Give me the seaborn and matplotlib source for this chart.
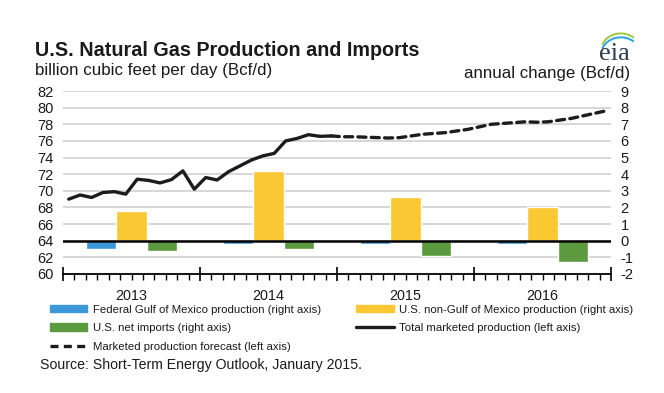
import numpy as np
import pandas as pd
import matplotlib
matplotlib.use("Agg")
import matplotlib.pyplot as plt
from matplotlib.patches import Patch, Arc
from matplotlib.lines import Line2D
import matplotlib.transforms as mtransforms
import seaborn as sns


# chart values
years = [2013, 2014, 2015, 2016]
year_labels = ["2013", "2014", "2015", "2016"]

# total marketed production, monthly, Jan 2013 - Dec 2014 (left axis, Bcf/d)
production_hist = [69.0, 69.5, 69.2, 69.8, 69.9, 69.6, 71.4, 71.25, 70.95, 71.35, 72.4, 70.2,
                   71.6, 71.3, 72.3, 73.0, 73.7, 74.2, 74.5, 76.0, 76.3, 76.75, 76.55, 76.6]
# marketed production forecast, monthly, Jan 2015 - Dec 2016 (left axis, Bcf/d)
production_fcst = [76.5, 76.5, 76.45, 76.4, 76.35, 76.4, 76.6, 76.8, 76.9, 77.0, 77.2, 77.4,
                   77.7, 78.0, 78.1, 78.2, 78.3, 78.25, 78.3, 78.5, 78.7, 79.0, 79.3, 79.6]

# annual change (right axis, Bcf/d)
gom_change = [-0.5, -0.2, -0.2, -0.2]
non_gom_change = [1.8, 4.2, 2.6, 2.0]
net_imports_change = [-0.6, -0.5, -0.9, -1.3]

BLUE = "#3a98d8"
YELLOW = "#f9c832"
GREEN = "#5c9a40"
LINE = "#1c1c1c"
GRID = "#d4d4d4"


def build_frames():
    hist = pd.DataFrame({
        "t": 2013 + (np.arange(len(production_hist)) + 0.5) / 12,
        "value": production_hist,
    })
    fcst = pd.DataFrame({
        "t": 2015 + (np.arange(len(production_fcst)) + 0.5) / 12,
        "value": production_fcst,
    })
    # let the forecast start where history ends
    fcst = pd.concat([hist.tail(1), fcst], ignore_index=True)
    return hist, fcst


def main() -> None:
    sns.set_theme(style="white")
    plt.rcParams["font.family"] = ["Liberation Sans", "DejaVu Sans"]
    plt.rcParams["text.color"] = "#1a1a1a"
    plt.rcParams["axes.unicode_minus"] = False

    fig = plt.figure(figsize=(6.64, 3.93), dpi=100)
    ax = fig.add_axes([0.0949, 0.3028, 0.8253, 0.4656])
    ax2 = ax.twinx()

    hist, fcst = build_frames()

    # grid lines live on the right axis so the bars sit on top of them
    for v in range(-1, 10):
        ax2.axhline(v, color=GRID, lw=1.3, zorder=0)

    # bars on the right axis
    bar_w = 0.223
    centers = np.array(years) + 0.5
    ax2.bar(centers - bar_w, gom_change, width=bar_w, color=BLUE, zorder=2)
    ax2.bar(centers, non_gom_change, width=bar_w, color=YELLOW, zorder=2)
    ax2.bar(centers + bar_w, net_imports_change, width=bar_w, color=GREEN, zorder=2)
    ax2.axhline(0, color="black", lw=1.8, zorder=3)

    # lines on the left axis, drawn above the bars
    ax.set_zorder(ax2.get_zorder() + 1)
    ax.patch.set_visible(False)
    sns.lineplot(data=hist, x="t", y="value", ax=ax, color=LINE, lw=2.4, zorder=4)
    sns.lineplot(data=fcst, x="t", y="value", ax=ax, color=LINE, lw=2.4, zorder=4,
                 dashes=False, linestyle=(0, (2.4, 1.6)), dash_capstyle="round")

    ax.set_xlim(2013, 2017)
    ax.set_ylim(60, 82)
    ax2.set_ylim(-2, 9)
    ax.set_xlabel("")
    ax.set_ylabel("")

    ax.set_yticks(range(60, 84, 2))
    ax2.set_yticks(range(-2, 10))
    ax.tick_params(axis="y", length=0, pad=7, labelsize=10.5, labelcolor="#1a1a1a")
    ax2.tick_params(axis="y", length=0, pad=7, labelsize=10.5, labelcolor="#1a1a1a")

    ax.set_xticks(years + [2017])
    ax.set_xticklabels([])
    ax.set_xticks(2013 + np.arange(1, 48) / 12, minor=True)
    ax.tick_params(axis="x", which="major", bottom=True, direction="inout", length=10,
                   width=1.2, color="black")
    ax.tick_params(axis="x", which="minor", bottom=True, direction="out", length=4,
                   width=1.0, color="black")
    ax2.tick_params(axis="x", which="both", bottom=False, length=0)

    for a in (ax, ax2):
        for side in ("left", "right", "top", "bottom"):
            a.spines[side].set_visible(False)
    ax.spines["bottom"].set_visible(True)
    ax.spines["bottom"].set_color("black")
    ax.spines["bottom"].set_linewidth(1.3)

    trans = mtransforms.blended_transform_factory(ax.transData, ax.transAxes)
    for yr, lab in zip(years, year_labels):
        ax.text(yr + 0.5, -0.12, lab, transform=trans, ha="center", va="center", fontsize=10.4)

    # titles
    fig.text(0.053, 0.858, "U.S. Natural Gas Production and Imports", fontsize=14.2,
             fontweight="bold", ha="left", va="baseline")
    fig.text(0.053, 0.808, "billion cubic feet per day (Bcf/d)", fontsize=12.2,
             ha="left", va="baseline")
    fig.text(0.949, 0.802, "annual change (Bcf/d)", fontsize=12.2, ha="right", va="baseline")

    # eia mark
    fig.text(0.925, 0.848, "eia", fontsize=19, family=["Liberation Serif", "DejaVu Serif"],
             color="#2c3e50", ha="center", va="baseline")
    fig.patches.append(Arc((0.935, 0.87), 0.06, 0.09, theta1=60, theta2=150,
                           transform=fig.transFigure, color="#9dc83c", lw=1.4))
    fig.patches.append(Arc((0.935, 0.86), 0.06, 0.09, theta1=60, theta2=150,
                           transform=fig.transFigure, color="#29a3dc", lw=1.4))

    # legend
    handles = [
        Patch(color=BLUE, label="Federal Gulf of Mexico production (right axis)"),
        Patch(color=GREEN, label="U.S. net imports (right axis)"),
        Line2D([], [], color=LINE, lw=2.4, linestyle=(0, (2.4, 1.6)),
               label="Marketed production forecast (left axis)"),
        Patch(color=YELLOW, label="U.S. non-Gulf of Mexico production (right axis)"),
        Line2D([], [], color=LINE, lw=2.4, label="Total marketed production (left axis)"),
    ]
    fig.legend(handles=handles, ncol=2, loc="upper left", bbox_to_anchor=(0.075, 0.225),
               frameon=False, fontsize=8.2, handlelength=3.3, handleheight=0.6,
               handletextpad=0.45, columnspacing=3.1, labelspacing=0.75, borderpad=0,
               borderaxespad=0)

    fig.text(0.06, 0.062, "Source: Short-Term Energy Outlook, January 2015.", fontsize=10.2,
             ha="left", va="baseline")

    fig.savefig("out.png", dpi=100)


if __name__ == "__main__":
    main()
